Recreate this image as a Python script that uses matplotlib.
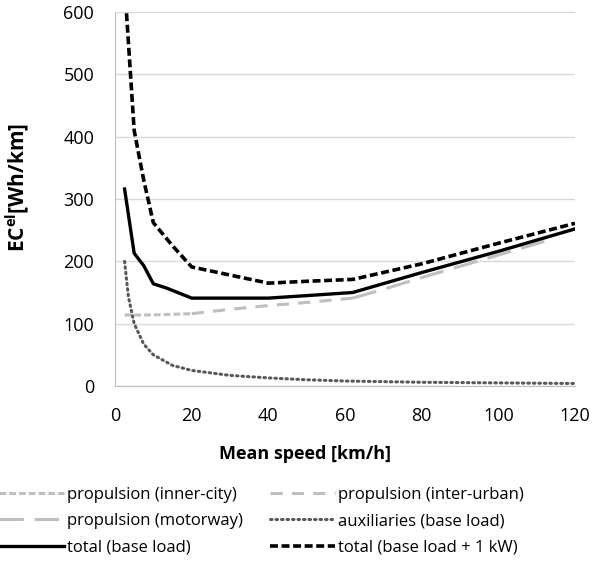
import matplotlib
import numpy as np
import matplotlib.pyplot as plt

matplotlib.use("Agg")

plt.rcParams['font.family'] = ['Open Sans', 'DejaVu Sans']
plt.rcParams['mathtext.fontset'] = 'custom'
plt.rcParams['mathtext.rm'] = 'Open Sans'
plt.rcParams['mathtext.bf'] = 'Open Sans:bold'

# speeds and energy consumption [Wh/km]
v_city = [2.5, 5, 10, 15, 20]
ec_city = [114, 114, 114, 115, 116]

v_inter = [20, 30, 40, 50, 62]
ec_inter = [116, 123, 129, 134, 141]

v_motor = [62, 70, 80, 90, 100, 112]
ec_motor = [141, 155, 174, 192, 210, 232]

v_aux = [2.5, 3.5, 5, 7.5, 10, 15, 20, 30, 40, 50, 60, 80, 100, 120]
ec_aux = [200, 143, 100, 67, 50, 33, 25, 17, 13, 10, 8, 6, 5, 4]

v_total = [2.5, 5, 7.5, 10, 13.5, 20, 30, 40, 50, 62, 80, 100, 120]
ec_total = [316, 213, 193, 164, 157, 141, 141, 141, 145, 150, 182, 216, 252]

v_total1kw = [3, 5, 7.5, 10, 15, 20, 30, 40, 50, 62, 80, 100, 120]
ec_total1kw = [598, 410, 330, 262, 225, 191, 178, 165, 168, 171, 196, 229, 261]

fig = plt.figure(figsize=(5.99, 5.80), dpi=100)
ax = fig.add_axes([115/599, 1-386/580, 460/599, 374/580])

gray = '#BFBFBF'
l1, = ax.plot(v_city, ec_city, color=gray, lw=2.2, dashes=(2.2, 1.0), label='propulsion (inner-city)')
l2, = ax.plot(v_inter, ec_inter, color=gray, lw=2.2, dashes=(4, 3), label='propulsion (inter-urban)')
l3, = ax.plot(v_motor, ec_motor, color=gray, lw=2.2, dashes=(8, 3.5), label='propulsion (motorway)')
l4, = ax.plot(v_aux, ec_aux, color='#595959', lw=2.2, dashes=(0.5, 1.3), dash_capstyle='round',
              label='auxiliaries (base load)')
l5, = ax.plot(v_total, ec_total, color='black', lw=2.4, label='total (base load)')
l6, = ax.plot(v_total1kw, ec_total1kw, color='black', lw=2.6, dashes=(2.2, 1.0),
              label='total (base load + 1 kW)')

ax.set_xlim(0, 120)
ax.set_ylim(0, 600)
ax.set_xticks(np.arange(0, 121, 20))
ax.set_yticks(np.arange(0, 601, 100))
ax.tick_params(length=0, labelsize=13, pad=15)
ax.grid(axis='y', color='#D9D9D9', lw=1)
ax.set_axisbelow(True)
for s in ['top', 'right']:
    ax.spines[s].set_visible(False)
for s in ['left', 'bottom']:
    ax.spines[s].set_color('#BFBFBF')

ax.set_xlabel('Mean speed [km/h]', fontsize=13, fontweight='bold')
ax.xaxis.set_label_coords((305-115)/460, (386-445)/374)
ax.set_ylabel(r'EC$^{\mathbf{el}}$[Wh/km]', fontsize=15, fontweight='bold', va='center')
ax.yaxis.set_label_coords((17-115)/460, (386-187)/374)

# legend is filled row by row in the reference
handles = [l1, l3, l5, l2, l4, l6]
fig.legend(handles=handles, labels=[h.get_label() for h in handles],
           loc='upper left', bbox_to_anchor=(-0.027, 0.187), ncol=2, frameon=False,
           fontsize=12, handlelength=3.9, handletextpad=0.2, columnspacing=1.6,
           labelspacing=0.64)

plt.savefig("out.png")
plt.close()
